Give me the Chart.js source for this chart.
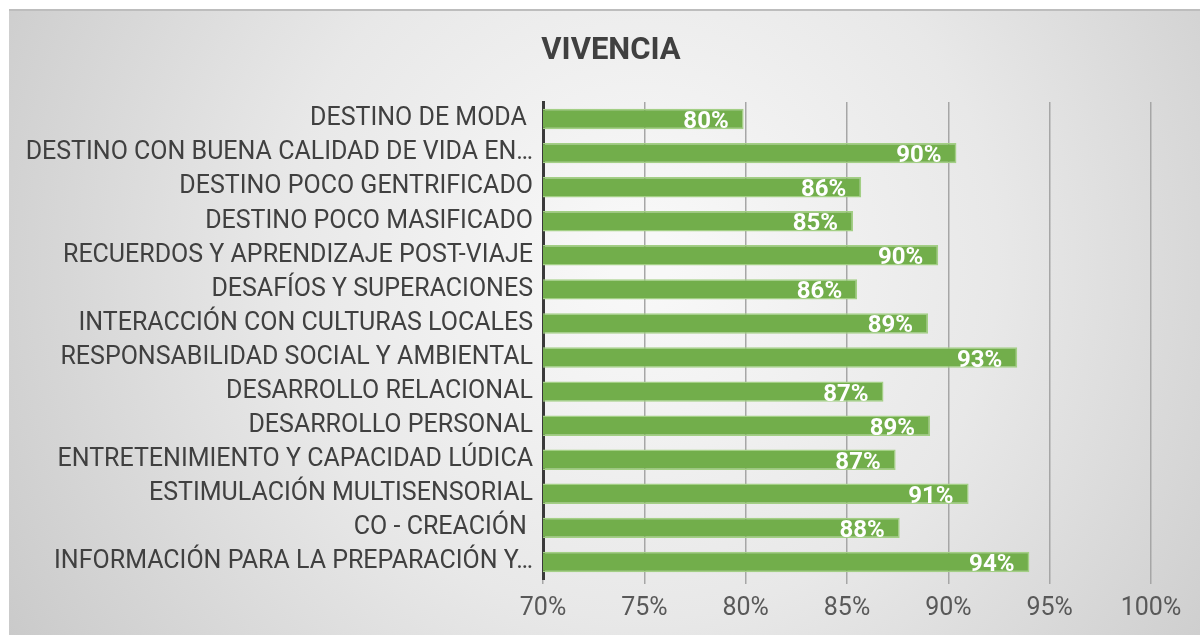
<!DOCTYPE html>
<html>
<head>
<meta charset="utf-8">
<script src="https://cdn.jsdelivr.net/npm/chart.js@4/dist/chart.umd.min.js"></script>
<style>
html,body{margin:0;padding:0;background:#fff;}
#wrap{width:1200px;height:635px;position:relative;}
</style>
</head>
<body>
<div id="wrap"><canvas id="c" width="1200" height="635"></canvas></div>
<script>
const title = 'VIVENCIA';
const categories = [
  'DESTINO DE MODA ',
  'DESTINO CON BUENA CALIDAD DE VIDA EN…',
  'DESTINO POCO GENTRIFICADO',
  'DESTINO POCO MASIFICADO',
  'RECUERDOS Y APRENDIZAJE POST-VIAJE',
  'DESAFÍOS Y SUPERACIONES',
  'INTERACCIÓN CON CULTURAS LOCALES',
  'RESPONSABILIDAD SOCIAL Y AMBIENTAL',
  'DESARROLLO RELACIONAL',
  'DESARROLLO PERSONAL',
  'ENTRETENIMIENTO Y CAPACIDAD LÚDICA',
  'ESTIMULACIÓN MULTISENSORIAL',
  'CO - CREACIÓN ',
  'INFORMACIÓN PARA LA PREPARACIÓN Y…'
];
const values = [79.9, 90.4, 85.7, 85.3, 89.5, 85.5, 89.0, 93.4, 86.8, 89.1, 87.4, 91.0, 87.6, 94.0];
const xMin = 70, xMax = 100, xStep = 5;

const bgPlugin = {
  id: 'bg',
  beforeDraw(chart) {
    const ctx = chart.ctx;
    ctx.save();
    ctx.fillStyle = '#ffffff';
    ctx.fillRect(0, 0, chart.width, chart.height);
    const g = ctx.createRadialGradient(640, 260, 30, 640, 260, 760);
    g.addColorStop(0, '#f8f8f8');
    g.addColorStop(0.45, '#e8e8e8');
    g.addColorStop(1, '#c8c8c8');
    ctx.fillStyle = g;
    ctx.fillRect(9, 10, chart.width - 9, chart.height - 10);
    ctx.fillStyle = '#bdbdbd';
    ctx.fillRect(9, 9, chart.width - 9, 2);
    ctx.restore();
  },
  afterDraw(chart) {
    const ctx = chart.ctx;
    ctx.save();
    ctx.font = 'bold 31px Roboto';
    ctx.fillStyle = '#404040';
    ctx.textAlign = 'center';
    ctx.textBaseline = 'middle';
    ctx.fillText(title, 611, 51);
    ctx.restore();
  }
};

const labelPlugin = {
  id: 'vlabels',
  afterDatasetsDraw(chart) {
    const ctx = chart.ctx;
    const meta = chart.getDatasetMeta(0);
    ctx.save();
    ctx.font = 'bold 24px Roboto';
    ctx.fillStyle = '#ffffff';
    ctx.textAlign = 'right';
    ctx.textBaseline = 'middle';
    meta.data.forEach((bar, i) => {
      const txt = Math.round(values[i]) + '%';
      ctx.fillText(txt, bar.x - 15, bar.y + 3);
    });
    ctx.restore();
  }
};

new Chart(document.getElementById('c'), {
  type: 'bar',
  data: {
    labels: categories,
    datasets: [{
      data: values,
      backgroundColor: '#72ae4b',
      borderColor: '#a3cf85',
      borderWidth: 1.5,
      borderSkipped: false,
      barPercentage: 0.6,
      categoryPercentage: 1.0
    }]
  },
  options: {
    indexAxis: 'y',
    responsive: false,
    animation: false,
    devicePixelRatio: 1,
    layout: { padding: { left: 10, right: 49, top: 102, bottom: 1 } },
    plugins: {
      legend: { display: false },
      tooltip: { enabled: false },
      title: { display: false }
    },
    scales: {
      x: {
        min: xMin, max: xMax,
        ticks: {
          stepSize: xStep,
          callback: v => v + '%',
          color: '#595959',
          font: { family: 'Roboto', size: 25 },
          padding: 10,
          maxRotation: 0
        },
        grid: { color: '#a6a6a6', lineWidth: 1.5, tickLength: 5, drawTicks: true },
        border: { display: false }
      },
      y: {
        ticks: {
          color: '#404040',
          font: { family: 'Roboto', size: 25 },
          padding: 2,
          autoSkip: false
        },
        grid: { display: false },
        border: { display: true, color: '#3a3a3a', width: 3 },
        afterFit(scale) { scale.width = 533; }
      }
    }
  },
  plugins: [bgPlugin, labelPlugin]
});
</script>
</body>
</html>
